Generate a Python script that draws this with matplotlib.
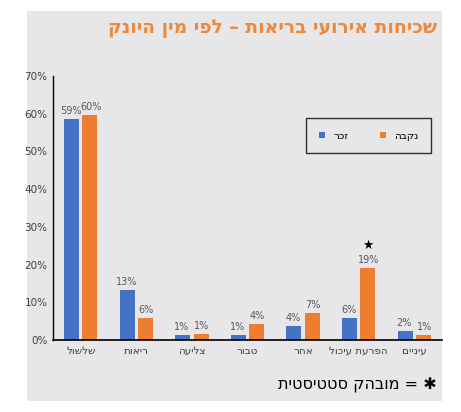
import numpy as np
import matplotlib.pyplot as plt
from matplotlib.patches import Rectangle


def rtl(s):
    """matplotlib has no bidi support, so reverse Hebrew text by hand."""
    return s[::-1]


categories = ["שלשול", "ריאות", "צליעה", "טבור", "אחר", "הפרעת עיכול", "עיניים"]
male = [58.5, 13.2, 1.2, 1.3, 3.6, 5.8, 2.3]
female = [59.6, 5.8, 1.5, 4.3, 7.2, 19.2, 1.4]
male_labels = ["59%", "13%", "1%", "1%", "4%", "6%", "2%"]
female_labels = ["60%", "6%", "1%", "4%", "7%", "19%", "1%"]
significant = [False, False, False, False, False, True, False]

BLUE = "#4472C4"
ORANGE = "#ED7D31"
PANEL = "#E7E7E9"

fig = plt.figure(figsize=(4.61, 4.12), dpi=100)
fig.patch.set_facecolor("white")
fig.patches.append(Rectangle((27 / 461, 11 / 412), 415 / 461, 390 / 412,
                             transform=fig.transFigure, facecolor=PANEL,
                             edgecolor="none", zorder=-1))

ax = fig.add_axes([53 / 461, 72 / 412, 389 / 461, 264 / 412])
ax.set_facecolor(PANEL)

x = np.arange(len(categories))
w = 0.27
ax.bar(x - 0.165, male, w, color=BLUE, label=rtl("זכר"))
ax.bar(x + 0.165, female, w, color=ORANGE, label=rtl("נקבה"))

for i in range(len(categories)):
    ax.text(x[i] - 0.18, male[i] + 0.8, male_labels[i], ha="center", va="bottom",
            fontsize=7, color="#595959")
    ax.text(x[i] + 0.18, female[i] + 0.8, female_labels[i], ha="center", va="bottom",
            fontsize=7, color="#595959")
    if significant[i]:
        ax.text(x[i] + 0.165, female[i] + 4.2, "★", ha="center", va="bottom",
                fontsize=9, color="black")

ax.set_xlim(-0.5, len(categories) - 0.5)
ax.set_ylim(0, 70)
ax.set_yticks(np.arange(0, 71, 10))
ax.set_yticklabels([f"{v}%" for v in range(0, 71, 10)], fontsize=7.5, color="#404040")
ax.set_xticks(x)
ax.set_xticklabels([rtl(c) for c in categories], fontsize=7.5, color="#404040")
ax.tick_params(length=0, pad=4)
for s in ["top", "right"]:
    ax.spines[s].set_visible(False)
ax.spines["left"].set_linewidth(1)
ax.spines["bottom"].set_linewidth(1.2)

leg = ax.legend(loc="upper right", bbox_to_anchor=(0.985, 0.86), ncol=2,
                fontsize=7.5, frameon=True, fancybox=False, handlelength=0.6,
                handleheight=0.6, columnspacing=3, borderpad=1.2)
leg.get_frame().set_edgecolor("black")
leg.get_frame().set_facecolor(PANEL)

fig.text(437 / 461, 1 - 28 / 412, rtl("שכיחות אירועי בריאות – לפי מין היונק"),
         ha="right", va="center", fontsize=13.5, fontweight="bold", color="#F0873A")
fig.text(437 / 461, 1 - 385 / 412, rtl("מובהק סטטיסטית") + " = ✱",
         ha="right", va="center", fontsize=11.5, color="black")

fig.savefig("out.png", dpi=100)
